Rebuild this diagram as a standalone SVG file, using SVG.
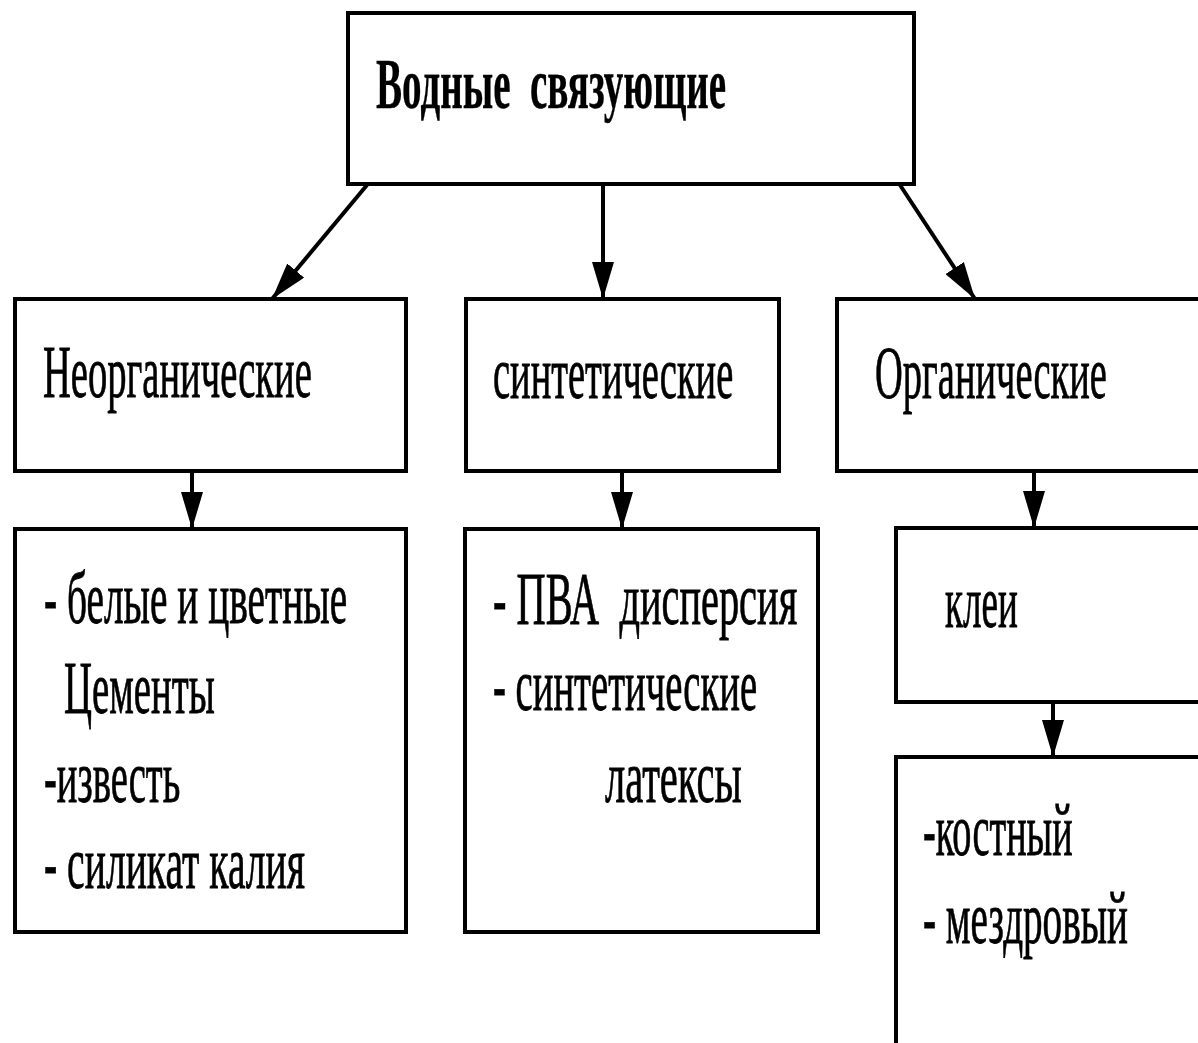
<svg xmlns="http://www.w3.org/2000/svg" width="1198" height="1043" viewBox="0 0 1198 1043">
<style>
.box{fill:#fff;stroke:#000;stroke-width:4}
.t{font-family:"Liberation Serif","Times New Roman",serif;font-size:74px;fill:#000;stroke:#000;stroke-width:0.8;white-space:pre}
.b{font-weight:bold;font-size:72px;stroke-width:0.4}
.c{stroke:#000;stroke-width:4;fill:none}
</style>
<defs>
<marker id="ah" markerUnits="userSpaceOnUse" markerWidth="38" markerHeight="22" refX="37" refY="11" orient="auto" viewBox="0 0 38 22">
<path d="M0,0 L37,11 L0,22 z" fill="#000"/>
</marker>
</defs>
<rect width="1198" height="1043" fill="#fff"/>
<g id="connectors">
<line class="c" x1="367" y1="185" x2="272" y2="299" marker-end="url(#ah)"/>
<line class="c" x1="603" y1="185" x2="603" y2="299" marker-end="url(#ah)"/>
<line class="c" x1="900" y1="185" x2="975" y2="299" marker-end="url(#ah)"/>
<line class="c" x1="192" y1="471" x2="192" y2="529" marker-end="url(#ah)"/>
<line class="c" x1="622" y1="471" x2="622" y2="529" marker-end="url(#ah)"/>
<line class="c" x1="1034" y1="471" x2="1034" y2="528" marker-end="url(#ah)"/>
<line class="c" x1="1053" y1="702" x2="1053" y2="757" marker-end="url(#ah)"/>
</g>
<g id="n-root">
<rect class="box" x="348" y="13" width="566" height="171"/>
<text class="t b" transform="translate(376,108) scale(0.52,1)" textLength="673" lengthAdjust="spacingAndGlyphs">Водные  связующие</text>
</g>
<g id="n-inorg">
<rect class="box" x="15" y="299" width="391" height="172"/>
<text class="t" transform="translate(43,397) scale(0.52,1)" textLength="517" lengthAdjust="spacingAndGlyphs">Неорганические</text>
</g>
<g id="n-synth">
<rect class="box" x="466" y="299" width="313" height="172"/>
<text class="t" transform="translate(493,398) scale(0.52,1)" textLength="462" lengthAdjust="spacingAndGlyphs">синтетические</text>
</g>
<g id="n-org">
<rect class="box" x="837" y="299" width="380" height="172"/>
<text class="t" transform="translate(875,398) scale(0.52,1)" textLength="446" lengthAdjust="spacingAndGlyphs">Органические</text>
</g>
<g id="n-inorg-list">
<rect class="box" x="15" y="529" width="391" height="403"/>
<text class="t" transform="translate(44,623) scale(0.52,1)" textLength="583" lengthAdjust="spacingAndGlyphs">- белые и цветные</text>
<text class="t" transform="translate(64,713) scale(0.52,1)" textLength="290" lengthAdjust="spacingAndGlyphs">Цементы</text>
<text class="t" transform="translate(44,802) scale(0.52,1)" textLength="262" lengthAdjust="spacingAndGlyphs">-известь</text>
<text class="t" transform="translate(44,888) scale(0.52,1)" textLength="502" lengthAdjust="spacingAndGlyphs">- силикат калия</text>
</g>
<g id="n-synth-list">
<rect class="box" x="465" y="529" width="353" height="403"/>
<text class="t" transform="translate(493,624) scale(0.52,1)" textLength="585" lengthAdjust="spacingAndGlyphs">- ПВА  дисперсия</text>
<text class="t" transform="translate(493,710) scale(0.52,1)" textLength="508" lengthAdjust="spacingAndGlyphs">- синтетические</text>
<text class="t" transform="translate(605,802) scale(0.52,1)" textLength="263" lengthAdjust="spacingAndGlyphs">латексы</text>
</g>
<g id="n-glue">
<rect class="box" x="896" y="528" width="320" height="174"/>
<text class="t" transform="translate(945,627) scale(0.52,1)" textLength="140" lengthAdjust="spacingAndGlyphs">клеи</text>
</g>
<g id="n-glue-list">
<rect class="box" x="896" y="757" width="320" height="320"/>
<text class="t" transform="translate(923,855) scale(0.52,1)" textLength="288" lengthAdjust="spacingAndGlyphs">-костный</text>
<text class="t" transform="translate(923,943) scale(0.52,1)" textLength="394" lengthAdjust="spacingAndGlyphs">- мездровый</text>
</g>
</svg>
